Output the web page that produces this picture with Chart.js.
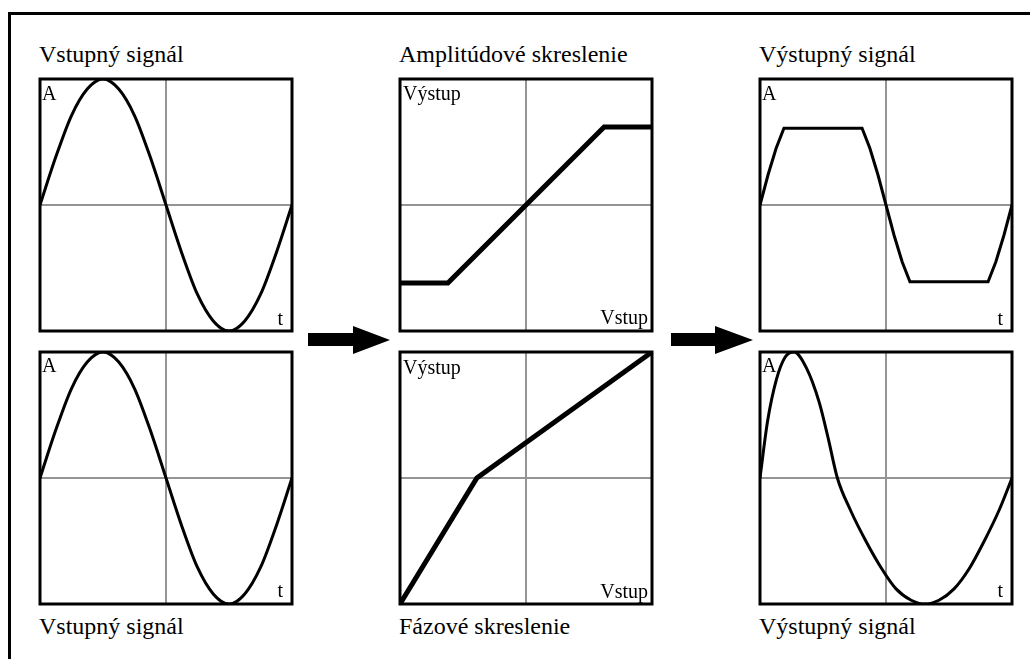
<!DOCTYPE html>
<html>
<head>
<meta charset="utf-8">
<script src="https://cdn.jsdelivr.net/npm/chart.js@4.4.1/dist/chart.umd.min.js"></script>
<style>
  body { margin: 0; background: #fff; width: 1030px; height: 659px; overflow: hidden; position: relative; font-family: "Liberation Serif", "DejaVu Serif", serif; color: #000; }
  .frame { position: absolute; left: 8px; top: 12px; width: 1030px; height: 659px; border-top: 3px solid #000; border-left: 3px solid #000; }
  canvas { position: absolute; }
  .title { position: absolute; font-size: 24px; line-height: 24px; white-space: nowrap; }
  .lbl { position: absolute; font-size: 20px; line-height: 20px; white-space: nowrap; }
  svg { position: absolute; left: 0; top: 0; }
</style>
</head>
<body>
<div class="frame"></div>

<div class="title" style="left:39px; top:42px">Vstupný signál</div>
<div class="title" style="left:399px; top:42px">Amplitúdové skreslenie</div>
<div class="title" style="left:759px; top:42px">Výstupný signál</div>
<div class="title" style="left:39px; top:614px">Vstupný signál</div>
<div class="title" style="left:399px; top:614px">Fázové skreslenie</div>
<div class="title" style="left:759px; top:614px">Výstupný signál</div>

<canvas id="c1" width="258" height="258" style="left:37px; top:76px"></canvas>
<canvas id="c2" width="258" height="258" style="left:397px; top:76px"></canvas>
<canvas id="c3" width="258" height="258" style="left:757px; top:76px"></canvas>
<canvas id="c4" width="258" height="258" style="left:37px; top:349px"></canvas>
<canvas id="c5" width="258" height="258" style="left:397px; top:349px"></canvas>
<canvas id="c6" width="258" height="258" style="left:757px; top:349px"></canvas>

<div class="lbl" style="left:42px; top:83px">A</div>
<div class="lbl" style="right:747px; top:308px">t</div>
<div class="lbl" style="left:403px; top:83px">Výstup</div>
<div class="lbl" style="right:382px; top:307px">Vstup</div>
<div class="lbl" style="left:762px; top:83px">A</div>
<div class="lbl" style="right:27px; top:308px">t</div>

<div class="lbl" style="left:42px; top:355px">A</div>
<div class="lbl" style="right:747px; top:580px">t</div>
<div class="lbl" style="left:403px; top:357px">Výstup</div>
<div class="lbl" style="right:382px; top:581px">Vstup</div>
<div class="lbl" style="left:762px; top:355px">A</div>
<div class="lbl" style="right:27px; top:580px">t</div>

<svg width="1030" height="659">
  <polygon points="308,333 353,333 353,326 390,340 353,354 353,346 308,346" fill="#000"/>
  <polygon points="671,333 715,333 715,326 753,340 715,354 715,346 671,346" fill="#000"/>
</svg>

<script>
// input signal (left column), one period
const inT = [0, 0.0625, 0.125, 0.1875, 0.25, 0.3125, 0.375, 0.4375, 0.5, 0.5625, 0.625, 0.6875, 0.75, 0.8125, 0.875, 0.9375, 1];
const inA = [0, 0.38, 0.71, 0.92, 1, 0.92, 0.71, 0.38, 0, -0.38, -0.71, -0.92, -1, -0.92, -0.71, -0.38, 0];

// amplitude distortion: transfer curve (vstup -> vystup)
const ampIn = [-1, -0.62, 0.62, 1];
const ampOut = [-0.62, -0.62, 0.62, 0.62];

// clipped output
const clipT = [0, 0.032, 0.064, 0.095, 0.405, 0.436, 0.468, 0.5, 0.532, 0.564, 0.595, 0.905, 0.936, 0.968, 1];
const clipA = [0, 0.24, 0.45, 0.61, 0.61, 0.45, 0.24, 0, -0.24, -0.45, -0.61, -0.61, -0.45, -0.24, 0];

// phase distortion: transfer curve
const phIn = [-1, -0.39, 1];
const phOut = [-1, 0, 1];

// phase distorted output
const phT = [0, 0.03, 0.065, 0.1, 0.135, 0.185, 0.235, 0.27, 0.307, 0.36, 0.42, 0.48, 0.54, 0.6, 0.654, 0.71, 0.77, 0.83, 0.89, 0.95, 1];
const phA = [0, 0.45, 0.78, 0.96, 1, 0.87, 0.6, 0.32, 0, -0.26, -0.5, -0.71, -0.88, -0.97, -1, -0.97, -0.88, -0.72, -0.5, -0.25, 0];

// black box round each plot area
const framePlugin = {
    id: 'frame',
    afterDraw: (chart) => {
        const a = chart.chartArea;
        const c = chart.ctx;
        c.save();
        c.strokeStyle = '#000';
        c.lineWidth = 3;
        c.strokeRect(a.left, a.top, a.right - a.left, a.bottom - a.top);
        c.restore();
    }
};

createChart = (id, xs, ys, xMin, xMax, lineW, smooth) => {
    const xMid = (xMin + xMax) / 2;
    new Chart(document.getElementById(id), {
        type: 'line',
        data: {
            datasets: [{
                data: xs.map((x, i) => ({ x: x, y: ys[i] })),
                borderColor: '#000',
                borderWidth: lineW,
                borderJoinStyle: 'miter',
                pointRadius: 0,
                fill: false,
                cubicInterpolationMode: smooth ? 'monotone' : 'default',
                tension: 0
            }]
        },
        options: {
            responsive: false,
            animation: false,
            events: [],
            layout: { padding: 3 },
            plugins: { legend: { display: false }, tooltip: { enabled: false } },
            scales: {
                x: {
                    type: 'linear', min: xMin, max: xMax,
                    ticks: { display: false, stepSize: (xMax - xMin) / 2 },
                    grid: { drawTicks: false, lineWidth: 2, color: (ctx) => ctx.tick && ctx.tick.value === xMid ? '#949494' : 'rgba(0,0,0,0)' },
                    border: { display: false }
                },
                y: {
                    type: 'linear', min: -1, max: 1,
                    ticks: { display: false, stepSize: 1 },
                    grid: { drawTicks: false, lineWidth: 2, color: (ctx) => ctx.tick && ctx.tick.value === 0 ? '#949494' : 'rgba(0,0,0,0)' },
                    border: { display: false }
                }
            }
        },
        plugins: [framePlugin]
    });
}

createChart('c1', inT, inA, 0, 1, 3, true);
createChart('c2', ampIn, ampOut, -1, 1, 5, false);
createChart('c3', clipT, clipA, 0, 1, 3, false);
createChart('c4', inT, inA, 0, 1, 3, true);
createChart('c5', phIn, phOut, -1, 1, 5, false);
createChart('c6', phT, phA, 0, 1, 3, true);
</script>
</body>
</html>
